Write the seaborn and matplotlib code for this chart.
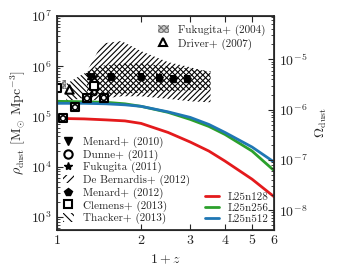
import numpy as np
import pandas as pd
import matplotlib
matplotlib.use("Agg")
import matplotlib.pyplot as plt
import seaborn as sns
from matplotlib.patches import Patch
from matplotlib.lines import Line2D
from matplotlib.ticker import FixedLocator, NullLocator, LogLocator, FuncFormatter

sns.set_theme(style="ticks")
plt.rcParams["font.family"] = ["cmr10", "DejaVu Serif"]
plt.rcParams["mathtext.fontset"] = "cm"
plt.rcParams["axes.formatter.use_mathtext"] = True
plt.rcParams["hatch.linewidth"] = 0.8

# ---------------- data ----------------
zp1_sim = [1.0, 1.25, 1.5, 1.75, 2.0, 2.5, 3.0, 3.5, 4.0, 5.0, 6.0]
logrho_L25n128 = [4.96, 4.95, 4.93, 4.91, 4.86, 4.68, 4.49, 4.31, 4.11, 3.75, 3.40]
logrho_L25n256 = [5.30, 5.29, 5.28, 5.25, 5.20, 5.08, 4.94, 4.80, 4.64, 4.31, 3.92]
logrho_L25n512 = [5.26, 5.26, 5.25, 5.23, 5.20, 5.09, 4.98, 4.84, 4.68, 4.39, 4.09]
run_names = ["L25n128", "L25n256", "L25n512"]
run_colors = ["#e41a1c", "#2ca02c", "#1f77b4"]

# observations (1+z, log rho)
menard10_x, menard10_y = [1.31], [5.79]
fukugita11_x, fukugita11_y = [1.36], [5.79]
menard12_x = [1.56, 2.0, 2.32, 2.6, 2.92]
menard12_y = [5.79, 5.79, 5.77, 5.75, 5.75]
dunne_x = [1.05, 1.16, 1.28, 1.36, 1.47]
dunne_y = [4.96, 5.18, 5.36, 5.47, 5.37]
clemens_x = [1.0, 1.05, 1.16, 1.28, 1.36, 1.47]
clemens_y = [5.57, 4.96, 5.18, 5.36, 5.60, 5.37]
driver_x, driver_y = [1.10], [5.55]
fukugita04_x = [1.04, 1.08]
fukugita04_lo, fukugita04_hi = 5.55, 5.72

debern_x = [1.28, 1.45, 1.7, 2.0, 2.5, 3.0, 3.55]
debern_hi = [5.90, 6.45, 6.50, 6.30, 6.08, 5.98, 5.87]
debern_lo = [5.30, 5.35, 5.40, 5.40, 5.35, 5.30, 5.28]
thacker_x = [1.08, 1.2, 1.4, 1.7, 2.0, 2.5, 3.0, 3.55]
thacker_hi = [5.65, 5.80, 6.00, 6.05, 6.05, 6.00, 5.95, 5.90]
thacker_lo = [5.30, 5.35, 5.42, 5.45, 5.47, 5.50, 5.52, 5.53]

rho_crit = 1.36e11

# ---------------- figure ----------------
fig = plt.figure(figsize=(3.38, 2.79), dpi=100)
ax = fig.add_axes([0.169, 0.176, 0.642, 0.767])
ax.set_xscale("log")
ax.set_yscale("log")

p = lambda a: 10 ** np.asarray(a)

# hatched regions
ax.fill_between(debern_x, p(debern_lo), p(debern_hi), facecolor="none",
                edgecolor="black", hatch="//////", linewidth=0)
ax.fill_between(thacker_x, p(thacker_lo), p(thacker_hi), facecolor="none",
                edgecolor="black", hatch="\\\\\\\\\\\\", linewidth=0)
ax.fill_between(fukugita04_x, p(fukugita04_lo), p(fukugita04_hi), facecolor="0.8",
                edgecolor="0.45", hatch="xxxxxxxx", linewidth=0)

# simulation curves
df = pd.DataFrame({
    "zp1": zp1_sim * 3,
    "rho": np.concatenate([p(logrho_L25n128), p(logrho_L25n256), p(logrho_L25n512)]),
    "run": sum([[n] * len(zp1_sim) for n in run_names], []),
})
sns.lineplot(data=df, x="zp1", y="rho", hue="run", palette=dict(zip(run_names, run_colors)),
             linewidth=2, legend=False, ax=ax)

# error bars
ax.errorbar(menard12_x, p(menard12_y), yerr=[p(menard12_y) * (1 - 10**-0.05), p(menard12_y) * (10**0.05 - 1)],
            fmt="none", ecolor="black", elinewidth=1.5, capsize=2.5, capthick=1.5)
ax.errorbar(clemens_x, p(clemens_y), xerr=0.02, yerr=[p(clemens_y) * (1 - 10**-0.04), p(clemens_y) * (10**0.04 - 1)],
            fmt="none", ecolor="black", elinewidth=1.2, capsize=2, capthick=1.2)
ax.errorbar(menard10_x, p(menard10_y), yerr=p(menard10_y) * 0.1, fmt="none", ecolor="black",
            elinewidth=1.2, capsize=2)

ms = 36
sns.scatterplot(x=menard10_x, y=p(menard10_y), marker="v", s=ms, color="black", edgecolor="black", ax=ax, zorder=5)
sns.scatterplot(x=fukugita11_x, y=p(fukugita11_y), marker="*", s=ms, color="black", edgecolor="black", ax=ax, zorder=5)
sns.scatterplot(x=menard12_x, y=p(menard12_y), marker="p", s=ms, color="black", edgecolor="black", ax=ax, zorder=5)
sns.scatterplot(x=clemens_x, y=p(clemens_y), marker="s", s=ms, facecolor="white", edgecolor="black", linewidth=1.5, ax=ax, zorder=5)
sns.scatterplot(x=dunne_x, y=p(dunne_y), marker="o", s=14, facecolor="none", edgecolor="black", linewidth=1.2, ax=ax, zorder=6)
sns.scatterplot(x=driver_x, y=p(driver_y), marker="^", s=ms, facecolor="white", edgecolor="black", linewidth=1.5, ax=ax, zorder=5)

# axes
ylim = (550, 1e7)
ax.set_xlim(1, 6)
ax.set_ylim(*ylim)
ax.xaxis.set_major_locator(FixedLocator([1, 2, 3, 4, 5, 6]))
ax.xaxis.set_minor_locator(NullLocator())
ax.xaxis.set_major_formatter(FuncFormatter(lambda v, _: f"{v:g}"))
ax.yaxis.set_major_locator(LogLocator(base=10, numticks=10))
ax.yaxis.set_minor_locator(LogLocator(base=10, subs=np.arange(2, 10), numticks=10))
ax.tick_params(which="both", direction="in", top=True, right=False, labelsize=10)
ax.tick_params(which="major", length=4, width=0.8)
ax.tick_params(which="minor", length=2, width=0.6)
ax.set_xlabel(r"$1+z$", fontsize=10, labelpad=4)
ax.set_ylabel(r"$\rho_{\rm dust}\ [{\rm M_{\odot}\ Mpc^{-3}}]$", fontsize=10, labelpad=2)
for s in ax.spines.values():
    s.set_linewidth(0.8)

ax2 = ax.twinx()
ax2.set_yscale("log")
ax2.set_ylim(ylim[0] / rho_crit, ylim[1] / rho_crit)
ax2.yaxis.set_major_locator(LogLocator(base=10, numticks=10))
ax2.yaxis.set_minor_locator(LogLocator(base=10, subs=np.arange(2, 10), numticks=10))
ax2.tick_params(which="both", direction="in", labelsize=10)
ax2.tick_params(which="major", length=4, width=0.8)
ax2.tick_params(which="minor", length=2, width=0.6)
ax2.set_ylabel(r"$\Omega_{\rm dust}$", fontsize=10, labelpad=4)

# legends
obs_handles = [
    Line2D([], [], marker="v", color="black", ls="none", markersize=6),
    Line2D([], [], marker="o", mfc="none", mec="black", mew=1.5, ls="none", markersize=6),
    Line2D([], [], marker="*", color="black", ls="none", markersize=6),
    Patch(facecolor="none", edgecolor="black", hatch="////", linewidth=0),
    Line2D([], [], marker="p", color="black", ls="none", markersize=6),
    Line2D([], [], marker="s", mfc="none", mec="black", mew=1.5, ls="none", markersize=6),
    Patch(facecolor="none", edgecolor="black", hatch="\\\\\\\\", linewidth=0),
]
obs_labels = ["Menard+ (2010)", "Dunne+ (2011)", "Fukugita (2011)", "De Bernardis+ (2012)",
              "Menard+ (2012)", "Clemens+ (2013)", "Thacker+ (2013)"]
leg1 = ax.legend(obs_handles, obs_labels, loc="lower left", fontsize=8, frameon=False,
                 labelspacing=0.13, handlelength=1.0, handleheight=0.8, handletextpad=0.8,
                 borderaxespad=0.3, borderpad=0.2)
ax.add_artist(leg1)

top_handles = [Patch(facecolor="0.8", edgecolor="0.45", hatch="xxxxxx", linewidth=0),
               Line2D([], [], marker="^", mfc="none", mec="black", mew=1.5, ls="none", markersize=6)]
leg2 = ax.legend(top_handles, ["Fukugita+ (2004)", "Driver+ (2007)"], loc="upper right", fontsize=8,
                 frameon=False, labelspacing=0.2, handlelength=1.0, handleheight=0.8,
                 handletextpad=0.8, borderaxespad=0.6, borderpad=0.2)
ax.add_artist(leg2)

line_handles = [Line2D([], [], color=c, lw=2) for c in run_colors]
ax.legend(line_handles, run_names, loc="lower right", fontsize=8, frameon=False,
          labelspacing=0.12, handlelength=1.2, handletextpad=0.8, borderaxespad=0.3, borderpad=0.2)

fig.savefig("out.png", dpi=100)
